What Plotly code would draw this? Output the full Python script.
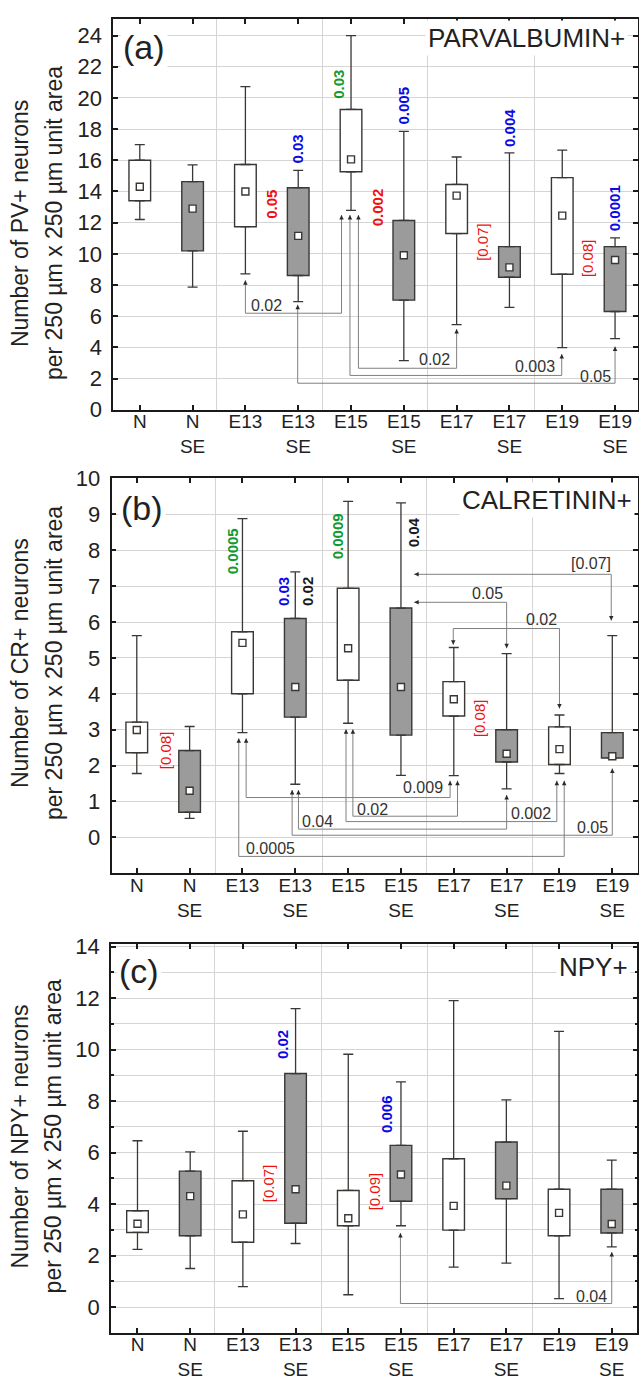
import plotly.graph_objects as go

# ---------------- data ----------------
categories = ["N", "N SE", "E13", "E13 SE", "E15", "E15 SE", "E17", "E17 SE", "E19", "E19 SE"]
tick_text = ["N", "N<br>SE", "E13", "E13<br>SE", "E15", "E15<br>SE", "E17", "E17<br>SE", "E19", "E19<br>SE"]

# (a) Parvalbumin+
pv_max = [17.0, 15.7, 20.72, 15.35, 24.0, 17.85, 16.21, 16.48, 16.65, 11.02]
pv_q3 = [16.0, 14.63, 15.73, 14.24, 19.26, 12.14, 14.45, 10.46, 14.89, 10.46]
pv_med = [14.3, 12.9, 14.0, 11.15, 16.06, 9.91, 13.73, 9.13, 12.45, 9.6]
pv_q1 = [13.4, 10.19, 11.74, 8.61, 15.26, 7.03, 11.3, 8.5, 8.69, 6.3]
pv_min = [12.2, 7.87, 8.71, 6.93, 12.79, 3.15, 5.46, 6.57, 3.99, 4.56]

# (b) Calretinin+
cr_max = [5.62, 3.09, 8.88, 7.4, 9.36, 9.32, 5.29, 5.12, 3.41, 5.62]
cr_q3 = [3.21, 2.42, 5.73, 6.1, 6.94, 6.39, 4.34, 3.0, 3.08, 2.92]
cr_med = [2.99, 1.3, 5.42, 4.19, 5.27, 4.19, 3.85, 2.33, 2.46, 2.26]
cr_q1 = [2.36, 0.70, 4.0, 3.35, 4.38, 2.85, 3.38, 2.1, 2.03, 2.21]
cr_min = [1.78, 0.53, 2.92, 1.48, 3.18, 1.73, 1.72, 1.35, 1.78, 2.21]

# (c) NPY+
npy_max = [6.46, 6.03, 6.83, 11.59, 9.82, 8.75, 11.9, 8.05, 10.71, 5.71]
npy_q3 = [3.74, 5.28, 4.91, 9.07, 4.53, 6.28, 5.76, 6.41, 4.58, 4.58]
npy_med = [3.24, 4.31, 3.6, 4.58, 3.45, 5.15, 3.93, 4.72, 3.66, 3.23]
npy_q1 = [2.9, 2.77, 2.52, 3.26, 3.16, 4.11, 2.99, 4.21, 2.77, 2.88]
npy_min = [2.24, 1.5, 0.8, 2.47, 0.48, 3.16, 1.55, 1.71, 0.33, 2.34]

# p-value labels (text, colour key, bold, x, y)
pv_pvals = [("0.05", "red", True, 2.5, 13.2), ("0.03", "blue", True, 2.98, 16.7),
            ("0.03", "green", True, 3.77, 20.9), ("0.005", "blue", True, 5.0, 19.5),
            ("0.002", "red", True, 4.49, 12.98), ("[0.07]", "red", False, 6.5, 10.77),
            ("0.004", "blue", True, 7.0, 18.1), ("[0.08]", "red", False, 8.48, 9.7),
            ("0.0001", "blue", True, 8.99, 12.9)]
cr_pvals = [("[0.08]", "red", False, 0.54, 2.44), ("0.0005", "green", True, 1.8, 7.97),
            ("0.03", "blue", True, 2.79, 6.84), ("0.02", "black", True, 3.23, 6.85),
            ("0.0009", "green", True, 3.79, 8.39), ("0.04", "black", True, 5.24, 8.49),
            ("[0.08]", "red", False, 6.5, 3.33)]
npy_pvals = [("0.02", "blue", True, 2.75, 10.19), ("[0.07]", "red", False, 2.5, 4.82),
             ("0.006", "blue", True, 4.73, 7.49), ("[0.09]", "red", False, 4.49, 4.5)]

# comparison brackets: path points, end heads, label, label pos, anchor
pv_brackets = [
    ([(2.0, 8.3), (2.0, 6.19), (3.82, 6.19), (3.82, 12.49)], ("arrow-up", "arrow-up"), "0.02", 2.08, 6.69, "left"),
    ([(2.99, 6.74), (2.99, 1.7), (9.0, 1.7), (9.0, 4.05)], ("arrow-up", "arrow-up"), "0.05", 8.95, 2.14, "right"),
    ([(3.98, 12.49), (3.98, 2.2), (7.99, 2.2), (7.99, 3.57)], ("arrow-up", "arrow-up"), "0.003", 7.88, 2.78, "right"),
    ([(4.14, 12.49), (4.14, 2.66), (6.0, 2.66), (6.0, 5.18)], ("arrow-up", "arrow-up"), "0.02", 5.89, 3.2, "right"),
]
cr_brackets = [
    ([(2.07, 2.76), (2.07, 1.11), (5.93, 1.11), (5.93, 1.58)], ("arrow-up", "arrow-up"), "0.009", 5.82, 1.4, "right"),
    ([(1.93, 2.76), (1.93, -0.53), (8.09, -0.53), (8.09, 1.58)], ("arrow-up", "arrow-up"), "0.0005", 2.04, -0.30, "left"),
    ([(3.06, 1.32), (3.06, 0.23), (7.0, 0.23), (7.0, 1.18)], ("arrow-up", "arrow-up"), "0.04", 3.11, 0.44, "left"),
    ([(2.94, 1.32), (2.94, 0.06), (9.0, 0.06), (9.0, 1.92)], ("arrow-up", "arrow-up"), "0.05", 8.94, 0.27, "right"),
    ([(4.09, 3.01), (4.09, 0.59), (6.07, 0.59), (6.07, 1.58)], ("arrow-up", "arrow-up"), "0.02", 4.15, 0.78, "left"),
    ([(3.96, 3.01), (3.96, 0.44), (7.95, 0.44), (7.95, 1.58)], ("arrow-up", "arrow-up"), "0.002", 7.86, 0.66, "right"),
    ([(5.25, 7.33), (8.98, 7.33), (8.98, 6.04)], ("arrow-left", "arrow-down"), "[0.07]", 8.99, 7.62, "right"),
    ([(5.25, 6.55), (7.0, 6.55), (7.0, 5.27)], ("arrow-left", "arrow-down"), "0.05", 6.95, 6.8, "right"),
    ([(5.99, 5.37), (5.99, 5.82), (8.0, 5.82), (8.0, 3.59)], ("arrow-down", "arrow-down"), "0.02", 7.97, 6.06, "right"),
]
npy_brackets = [
    ([(4.99, 2.88), (4.99, 0.14), (9.0, 0.14), (9.0, 2.14)], ("arrow-up", "arrow-up"), "0.04", 8.92, 0.43, "right"),
]

# ---------------- styling ----------------
W, H = 639, 1394
FONT = "Liberation Sans, Arial, sans-serif"
DARK = "#3a3734"
AXIS = "#1a1a1a"
GREY_FILL = "#9b9b9b"
GRID = "#d5d5d5"
BRACKET = "#808080"
TEXT = "#222222"
PCOL = {"red": "#f01010", "blue": "#0a0ae6", "green": "#109a30", "black": "#1a1a1a"}

panels = [
    dict(name="a", max=pv_max, q3=pv_q3, med=pv_med, q1=pv_q1, min=pv_min, pvals=pv_pvals, brackets=pv_brackets,
         px_x=(113.3, 638.5), xr=[-0.505, 9.425], px_y=(7.3, 405.0), yr=[0, 25.05],
         yticks=list(range(0, 25, 2)), yminor=None, vgrid=[1.45, 3.46, 5.45, 7.47],
         label="(a)", label_px=(120, 36), title="PARVALBUMIN+", title_px=(629, 26),
         ytitle=("Number of PV+ neurons", "per 250 µm x 250 µm unit area"), ytitle_y=215),
    dict(name="b", max=cr_max, q3=cr_q3, med=cr_med, q1=cr_q1, min=cr_min, pvals=cr_pvals, brackets=cr_brackets,
         px_x=(111.7, 638.5), xr=[-0.478, 9.477], px_y=(475.0, 877.0), yr=[-1, 10],
         yticks=list(range(0, 11)), yminor=None, vgrid=[1.49, 3.51, 5.49, 7.49],
         label="(b)", label_px=(118, 505), title="CALRETININ+", title_px=(636, 497),
         ytitle=("Number of CR+ neurons", "per 250 µm x 250 µm unit area"), ytitle_y=663),
    dict(name="c", max=npy_max, q3=npy_q3, med=npy_med, q1=npy_q1, min=npy_min, pvals=npy_pvals, brackets=npy_brackets,
         px_x=(111.0, 638.3), xr=[-0.506, 9.485], px_y=(949.3, 1345.0), yr=[-1, 14.09],
         yticks=list(range(0, 15, 2)), yminor=list(range(1, 14, 2)), vgrid=[1.46, 3.5, 5.5, 7.5],
         label="(c)", label_px=(116, 977), title="NPY+", title_px=(632, 972),
         ytitle=("Number of NPY+ neurons", "per 250 µm x 250 µm unit area"), ytitle_y=1145),
]

fig = go.Figure()
xs = list(range(len(categories)))
fills = [GREY_FILL if "SE" in c else "white" for c in categories]
annotations = []
layout_axes = {}

for i, p in enumerate(panels):
    sfx = "" if i == 0 else str(i + 1)
    xa, ya = "x" + sfx, "y" + sfx
    # boxes
    fig.add_trace(go.Bar(
        x=xs, y=[b - a for a, b in zip(p["q1"], p["q3"])], base=p["q1"], width=0.41,
        marker=dict(color=fills, line=dict(color=DARK, width=1.4)),
        xaxis=xa, yaxis=ya, showlegend=False, hoverinfo="skip"))
    # upper whiskers
    fig.add_trace(go.Scatter(
        x=xs, y=p["q3"], mode="markers", marker=dict(size=1, color="rgba(0,0,0,0)"),
        error_y=dict(type="data", symmetric=False, array=[h - b for b, h in zip(p["q3"], p["max"])],
                     arrayminus=[0] * len(xs), color=DARK, thickness=1.3, width=5),
        xaxis=xa, yaxis=ya, showlegend=False, hoverinfo="skip"))
    # lower whiskers
    fig.add_trace(go.Scatter(
        x=xs, y=p["q1"], mode="markers", marker=dict(size=1, color="rgba(0,0,0,0)"),
        error_y=dict(type="data", symmetric=False, array=[0] * len(xs),
                     arrayminus=[a - m for a, m in zip(p["q1"], p["min"])], color=DARK, thickness=1.3, width=5),
        xaxis=xa, yaxis=ya, showlegend=False, hoverinfo="skip"))
    # brackets
    for path, heads, lab, lx, ly, anc in p["brackets"]:
        fig.add_trace(go.Scatter(
            x=[pt[0] for pt in path], y=[pt[1] for pt in path], mode="lines",
            line=dict(color=BRACKET, width=1), xaxis=xa, yaxis=ya, showlegend=False, hoverinfo="skip"))
        fig.add_trace(go.Scatter(
            x=[path[0][0], path[-1][0]], y=[path[0][1], path[-1][1]], mode="markers",
            marker=dict(symbol=list(heads), size=4.5, color="#2a2a2a", line=dict(width=0)),
            xaxis=xa, yaxis=ya, showlegend=False, hoverinfo="skip"))
        annotations.append(dict(x=lx, y=ly, xref=xa, yref=ya, text=lab, showarrow=False,
                                xanchor=anc, yanchor="middle", borderpad=0,
                                font=dict(family=FONT, size=16, color="#333333")))
    # medians (squares)
    fig.add_trace(go.Scatter(
        x=xs, y=p["med"], mode="markers",
        marker=dict(symbol="square", size=7, color="white", line=dict(color=DARK, width=1.4)),
        xaxis=xa, yaxis=ya, showlegend=False, hoverinfo="skip"))
    # p-value labels
    for txt, col, bold, x, y in p["pvals"]:
        annotations.append(dict(x=x, y=y, xref=xa, yref=ya, text=("<b>%s</b>" % txt) if bold else txt,
                                showarrow=False, textangle=-90, xanchor="center", yanchor="middle",
                                font=dict(family=FONT, size=15, color=PCOL[col])))
    # panel letter and title
    annotations.append(dict(x=p["label_px"][0] / W, y=1 - p["label_px"][1] / H, xref="paper", yref="paper",
                            text=p["label"], showarrow=False, xanchor="left", yanchor="middle",
                            bgcolor="white", borderpad=2, font=dict(family=FONT, size=34, color="#222222")))
    annotations.append(dict(x=p["title_px"][0] / W, y=1 - p["title_px"][1] / H, xref="paper", yref="paper",
                            text=p["title"], showarrow=False, xanchor="right", yanchor="middle",
                            bgcolor="white", borderpad=2, font=dict(family=FONT, size=26, color="#222222")))
    # y-axis title (two lines)
    for line_txt, xpx in zip(p["ytitle"], (20, 54)):
        annotations.append(dict(x=xpx / W, y=1 - p["ytitle_y"] / H, xref="paper", yref="paper",
                                text=line_txt, showarrow=False, textangle=-90, xanchor="center",
                                yanchor="middle", font=dict(family=FONT, size=23, color="#222222")))

    x0, x1 = p["px_x"]
    yt, yb = p["px_y"]
    layout_axes["xaxis" + sfx] = dict(
        domain=[x0 / W, x1 / W], range=p["xr"], anchor=ya,
        tickvals=xs, ticktext=tick_text, ticks="inside", ticklen=5, tickwidth=2, tickcolor=AXIS,
        showline=True, linecolor=AXIS, linewidth=1.6, mirror="ticks",
        showgrid=False, zeroline=False, ticklabelstandoff=-6,
        tickfont=dict(family=FONT, size=19, color=TEXT),
        minor=dict(tickvals=p["vgrid"], showgrid=True, gridcolor=GRID, gridwidth=1.3, ticks=""),
        fixedrange=True)
    ydict = dict(
        domain=[1 - yb / H, 1 - yt / H], range=p["yr"], anchor=xa,
        tickvals=p["yticks"], ticks="inside", ticklen=5, tickwidth=2, tickcolor=AXIS,
        showline=True, linecolor=AXIS, linewidth=1.6, mirror="ticks",
        showgrid=True, gridcolor=GRID, gridwidth=1.3, zeroline=False, ticklabelstandoff=5,
        tickfont=dict(family=FONT, size=22, color=TEXT), fixedrange=True)
    if p["yminor"]:
        ydict["minor"] = dict(tickvals=p["yminor"], showgrid=True, gridcolor=GRID, gridwidth=1.3,
                              ticks="inside", ticklen=3, tickcolor=AXIS)
    layout_axes["yaxis" + sfx] = ydict

fig.update_layout(
    width=W, height=H, margin=dict(l=0, r=0, t=0, b=0),
    paper_bgcolor="white", plot_bgcolor="white",
    font=dict(family=FONT, color=TEXT), showlegend=False, barmode="overlay",
    annotations=annotations, **layout_axes)

fig.write_html(
    "out.html",
    config={"displayModeBar": False},
    post_script="document.body.style.margin='0';document.body.style.padding='0';"
                "document.body.style.overflow='hidden';document.documentElement.style.overflow='hidden';")
